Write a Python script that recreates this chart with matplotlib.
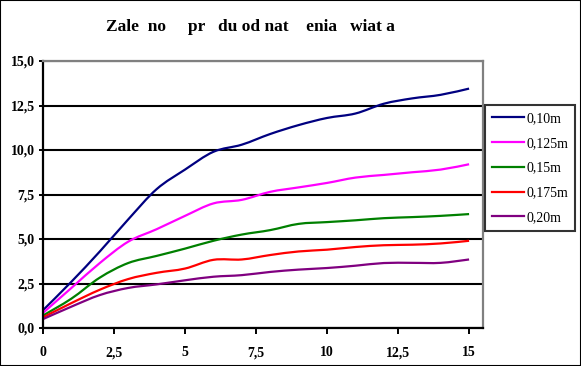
import matplotlib
matplotlib.use("Agg")
import matplotlib.pyplot as plt
from matplotlib.patches import Rectangle, PathPatch
from matplotlib.path import Path
from matplotlib.lines import Line2D

# light intensity (x) and current for each distance
x = [0, 1, 2, 3, 4, 5, 6, 7, 8, 9, 10, 11, 12, 13, 14, 15]
y_010 = [1.0, 2.6, 4.3, 6.1, 7.8, 8.9, 9.9, 10.3, 10.9, 11.4, 11.8, 12.05, 12.6, 12.9, 13.1, 13.45]
y_0125 = [0.85, 2.25, 3.65, 4.85, 5.55, 6.3, 7.0, 7.2, 7.65, 7.9, 8.15, 8.45, 8.6, 8.75, 8.9, 9.2]
y_015 = [0.7, 1.65, 2.83, 3.65, 4.05, 4.46, 4.9, 5.25, 5.5, 5.85, 5.95, 6.05, 6.17, 6.23, 6.3, 6.4]
y_0175 = [0.6, 1.4, 2.15, 2.75, 3.1, 3.34, 3.83, 3.85, 4.1, 4.3, 4.4, 4.55, 4.65, 4.68, 4.75, 4.9]
y_020 = [0.5, 1.2, 1.85, 2.25, 2.45, 2.68, 2.88, 2.97, 3.15, 3.28, 3.37, 3.5, 3.65, 3.66, 3.66, 3.85]

labels = ["0,10m", "0,125m", "0,15m", "0,175m", "0,20m"]
colors = ["#000080", "#ff00ff", "#008000", "#ff0000", "#800080"]
series = [y_010, y_0125, y_015, y_0175, y_020]

xticks = [0, 2.5, 5, 7.5, 10, 12.5, 15]
xticklabels = ["0", "2,5", "5", "7,5", "10", "12,5", "15"]
yticks = [0, 2.5, 5, 7.5, 10, 12.5, 15]
yticklabels = ["0,0", "2,5", "5,0", "7,5", "10,0", "12,5", "15,0"]


def smooth_path(xs, ys):
    # Excel-style smoothed line: cubic Bezier segments through the points
    verts = [(xs[0], ys[0])]
    codes = [Path.MOVETO]
    n = len(xs)
    for i in range(n - 1):
        x0, y0 = xs[max(i - 1, 0)], ys[max(i - 1, 0)]
        x1, y1 = xs[i], ys[i]
        x2, y2 = xs[i + 1], ys[i + 1]
        x3, y3 = xs[min(i + 2, n - 1)], ys[min(i + 2, n - 1)]
        c1 = (x1 + (x2 - x0) / 6, y1 + (y2 - y0) / 6)
        c2 = (x2 - (x3 - x1) / 6, y2 - (y3 - y1) / 6)
        verts += [c1, c2, (x2, y2)]
        codes += [Path.CURVE4] * 3
    return Path(verts, codes)


plt.rcParams["font.family"] = ["Liberation Serif", "DejaVu Serif"]

W, H = 581, 366
fig = plt.figure(figsize=(W / 100, H / 100), dpi=100)
ax = fig.add_axes([43 / W, (H - 328) / H, (483 - 43) / W, (328 - 61) / H])

handles = []
for ys, lab, col in zip(series, labels, colors):
    ax.add_patch(PathPatch(smooth_path(x, ys), facecolor="none", edgecolor=col,
                           lw=1.6, capstyle="butt", joinstyle="round"))
    handles.append(Line2D([], [], color=col, lw=1.6, label=lab))

ax.set_xlim(0, 15.49)
ax.set_ylim(0, 15)
ax.set_xticks(xticks)
ax.set_xticklabels(xticklabels, fontsize=10, fontweight="bold")
ax.set_yticks(yticks)
ax.set_yticklabels(yticklabels, fontsize=10, fontweight="bold")
ax.tick_params(axis="x", direction="out", length=4, width=1.4, pad=9)
ax.tick_params(axis="y", direction="out", length=3, width=1.4, pad=3)

ax.yaxis.grid(True, color="black", lw=1.5)
ax.set_axisbelow(True)
for side in ["left", "bottom"]:
    ax.spines[side].set_color("black")
    ax.spines[side].set_linewidth(1.6)
for side in ["top", "right"]:
    ax.spines[side].set_color("#808080")
    ax.spines[side].set_linewidth(1.6)

fig.text(250 / W, 1 - 27 / H, "Zale  no     pr   du od nat    enia   wiat a",
         ha="center", va="center", fontsize=12.5, fontweight="bold")

leg = fig.legend(handles=handles, loc="upper left", bbox_to_anchor=(485 / W, 1 - 105 / H),
                 fontsize=10, frameon=True, fancybox=False, handlelength=2.3,
                 handletextpad=0.2, labelspacing=0.85, borderpad=0.5,
                 borderaxespad=0)
leg.get_frame().set_edgecolor("black")
leg.get_frame().set_linewidth(1.5)

fig.patches.append(Rectangle((0, 0), 1, 1, transform=fig.transFigure, fill=False,
                             edgecolor="black", lw=1.5))

fig.savefig("out.png", dpi=100)
